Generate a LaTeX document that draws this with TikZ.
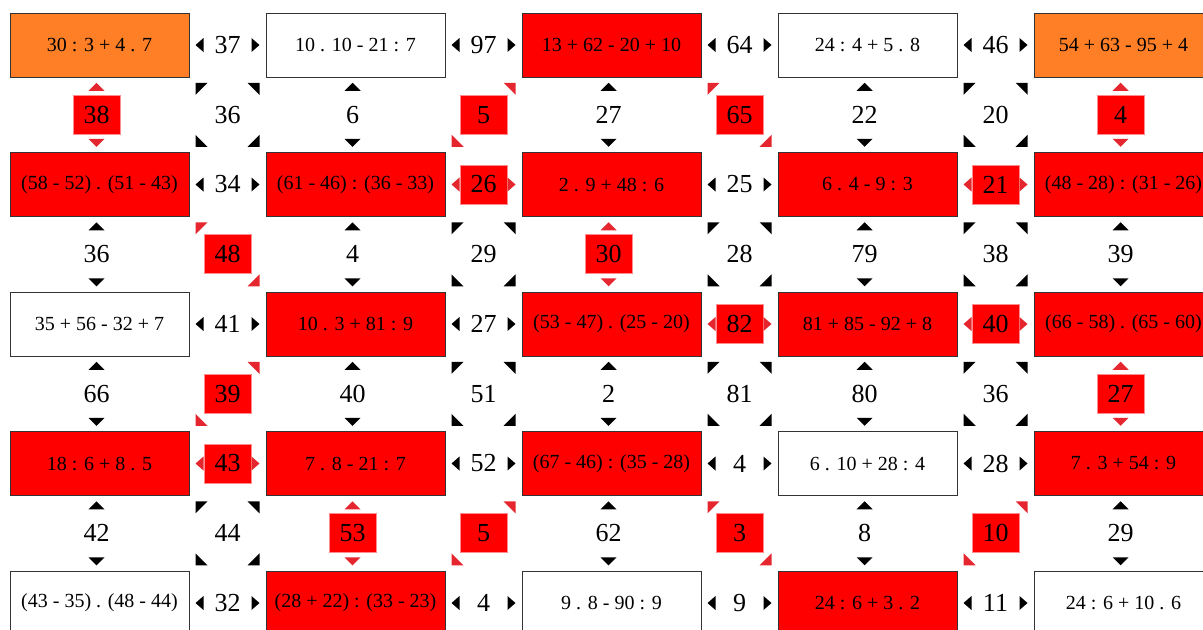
\documentclass[tikz,border=0pt]{standalone}
\usepackage{fontspec}
\setmainfont{Liberation Serif}
\usepackage{tikz}
\usepackage{xcolor}
\definecolor{cellred}{HTML}{FF0000}
\definecolor{tipred}{HTML}{E6262E}
\definecolor{cellorange}{HTML}{FF7F27}

% little triangles round a number node: #1 node, #2 colour
\newcommand{\sidetips}[2]{%
  \fill[#2, shift={(#1)}] (-24,-7) -- (-32,0) -- (-24,7) -- cycle
    (24,-7) -- (32,0) -- (24,7) -- cycle;}
\newcommand{\vtips}[2]{%
  \fill[#2, shift={(#1)}] (-8,-24) -- (0,-32) -- (8,-24) -- cycle
    (-8,24) -- (0,32) -- (8,24) -- cycle;}
\newcommand{\risetips}[2]{% top right, bottom left
  \fill[#2, shift={(#1)}] (20,-32) -- (32,-32) -- (32,-20) -- cycle
    (-32,20) -- (-32,32) -- (-20,32) -- cycle;}
\newcommand{\falltips}[2]{% top left, bottom right
  \fill[#2, shift={(#1)}] (-32,-32) -- (-20,-32) -- (-32,-20) -- cycle
    (32,20) -- (32,32) -- (20,32) -- cycle;}
\newcommand{\cornertips}[1]{\risetips{#1}{black}\falltips{#1}{black}}

\begin{document}
\begin{tikzpicture}[x=0.75pt, y=-0.75pt,
    cell/.style={draw=black!80, line width=0.75pt, minimum width=134.25pt,
      minimum height=48pt, inner sep=0pt, font=\fontsize{15}{17}\selectfont},
    num/.style={inner sep=0pt, minimum width=35.25pt, minimum height=29.25pt,
      font=\fontsize{19.5}{22}\selectfont},
    hot/.style={num, fill=cellred, draw=red!45, line width=0.4pt}]
  \useasboundingbox (0,0) rectangle (1203,629);

  % row 1
  \node[cell, fill=cellorange] (b11) at (99.5,45) {30 : 3 + 4 . 7};
  \node[cell] (b12) at (355.5,45) {10 . 10 - 21 : 7};
  \node[cell, fill=cellred] (b13) at (611.5,45) {13 + 62 - 20 + 10};
  \node[cell] (b14) at (867.5,45) {24 : 4 + 5 . 8};
  \node[cell, fill=cellorange] (b15) at (1123.5,45) {54 + 63 - 95 + 4};
  \node[num] (h11) at (227.5,45) {37};
  \node[num] (h12) at (483.5,45) {97};
  \node[num] (h13) at (739.5,45) {64};
  \node[num] (h14) at (995.5,45) {46};
  \node[hot] (v11) at (96.5,114.75) {38};
  \node[num] (d11) at (227.5,114.75) {36};
  \node[num] (v12) at (352.5,114.75) {6};
  \node[hot] (d12) at (483.5,114.75) {5};
  \node[num] (v13) at (608.5,114.75) {27};
  \node[hot] (d13) at (739.5,114.75) {65};
  \node[num] (v14) at (864.5,114.75) {22};
  \node[num] (d14) at (995.5,114.75) {20};
  \node[hot] (v15) at (1120.5,114.75) {4};

  % row 2
  \node[cell, fill=cellred] (b21) at (99.5,184.5) {(58 - 52) . (51 - 43)};
  \node[cell, fill=cellred] (b22) at (355.5,184.5) {(61 - 46) : (36 - 33)};
  \node[cell, fill=cellred] (b23) at (611.5,184.5) {2 . 9 + 48 : 6};
  \node[cell, fill=cellred] (b24) at (867.5,184.5) {6 . 4 - 9 : 3};
  \node[cell, fill=cellred] (b25) at (1123.5,184.5) {(48 - 28) : (31 - 26)};
  \node[num] (h21) at (227.5,184.5) {34};
  \node[hot] (h22) at (483.5,184.5) {26};
  \node[num] (h23) at (739.5,184.5) {25};
  \node[hot] (h24) at (995.5,184.5) {21};
  \node[num] (v21) at (96.5,254.25) {36};
  \node[hot] (d21) at (227.5,254.25) {48};
  \node[num] (v22) at (352.5,254.25) {4};
  \node[num] (d22) at (483.5,254.25) {29};
  \node[hot] (v23) at (608.5,254.25) {30};
  \node[num] (d23) at (739.5,254.25) {28};
  \node[num] (v24) at (864.5,254.25) {79};
  \node[num] (d24) at (995.5,254.25) {38};
  \node[num] (v25) at (1120.5,254.25) {39};

  % row 3
  \node[cell] (b31) at (99.5,324) {35 + 56 - 32 + 7};
  \node[cell, fill=cellred] (b32) at (355.5,324) {10 . 3 + 81 : 9};
  \node[cell, fill=cellred] (b33) at (611.5,324) {(53 - 47) . (25 - 20)};
  \node[cell, fill=cellred] (b34) at (867.5,324) {81 + 85 - 92 + 8};
  \node[cell, fill=cellred] (b35) at (1123.5,324) {(66 - 58) . (65 - 60)};
  \node[num] (h31) at (227.5,324) {41};
  \node[num] (h32) at (483.5,324) {27};
  \node[hot] (h33) at (739.5,324) {82};
  \node[hot] (h34) at (995.5,324) {40};
  \node[num] (v31) at (96.5,393.75) {66};
  \node[hot] (d31) at (227.5,393.75) {39};
  \node[num] (v32) at (352.5,393.75) {40};
  \node[num] (d32) at (483.5,393.75) {51};
  \node[num] (v33) at (608.5,393.75) {2};
  \node[num] (d33) at (739.5,393.75) {81};
  \node[num] (v34) at (864.5,393.75) {80};
  \node[num] (d34) at (995.5,393.75) {36};
  \node[hot] (v35) at (1120.5,393.75) {27};

  % row 4
  \node[cell, fill=cellred] (b41) at (99.5,463.5) {18 : 6 + 8 . 5};
  \node[cell, fill=cellred] (b42) at (355.5,463.5) {7 . 8 - 21 : 7};
  \node[cell, fill=cellred] (b43) at (611.5,463.5) {(67 - 46) : (35 - 28)};
  \node[cell] (b44) at (867.5,463.5) {6 . 10 + 28 : 4};
  \node[cell, fill=cellred] (b45) at (1123.5,463.5) {7 . 3 + 54 : 9};
  \node[hot] (h41) at (227.5,463.5) {43};
  \node[num] (h42) at (483.5,463.5) {52};
  \node[num] (h43) at (739.5,463.5) {4};
  \node[num] (h44) at (995.5,463.5) {28};
  \node[num] (v41) at (96.5,533.25) {42};
  \node[num] (d41) at (227.5,533.25) {44};
  \node[hot] (v42) at (352.5,533.25) {53};
  \node[hot] (d42) at (483.5,533.25) {5};
  \node[num] (v43) at (608.5,533.25) {62};
  \node[hot] (d43) at (739.5,533.25) {3};
  \node[num] (v44) at (864.5,533.25) {8};
  \node[hot] (d44) at (995.5,533.25) {10};
  \node[num] (v45) at (1120.5,533.25) {29};

  % row 5
  \node[cell] (b51) at (99.5,603) {(43 - 35) . (48 - 44)};
  \node[cell, fill=cellred] (b52) at (355.5,603) {(28 + 22) : (33 - 23)};
  \node[cell] (b53) at (611.5,603) {9 . 8 - 90 : 9};
  \node[cell, fill=cellred] (b54) at (867.5,603) {24 : 6 + 3 . 2};
  \node[cell] (b55) at (1123.5,603) {24 : 6 + 10 . 6};
  \node[num] (h51) at (227.5,603) {32};
  \node[num] (h52) at (483.5,603) {4};
  \node[num] (h53) at (739.5,603) {9};
  \node[num] (h54) at (995.5,603) {11};

  % triangles
  \sidetips{h11}{black} \sidetips{h12}{black} \sidetips{h13}{black} \sidetips{h14}{black}
  \sidetips{h21}{black} \sidetips{h22}{tipred} \sidetips{h23}{black} \sidetips{h24}{tipred}
  \sidetips{h31}{black} \sidetips{h32}{black} \sidetips{h33}{tipred} \sidetips{h34}{tipred}
  \sidetips{h41}{tipred} \sidetips{h42}{black} \sidetips{h43}{black} \sidetips{h44}{black}
  \sidetips{h51}{black} \sidetips{h52}{black} \sidetips{h53}{black} \sidetips{h54}{black}
  \vtips{v11}{tipred} \vtips{v12}{black} \vtips{v13}{black} \vtips{v14}{black} \vtips{v15}{tipred}
  \vtips{v21}{black} \vtips{v22}{black} \vtips{v23}{tipred} \vtips{v24}{black} \vtips{v25}{black}
  \vtips{v31}{black} \vtips{v32}{black} \vtips{v33}{black} \vtips{v34}{black} \vtips{v35}{tipred}
  \vtips{v41}{black} \vtips{v42}{tipred} \vtips{v43}{black} \vtips{v44}{black} \vtips{v45}{black}
  \cornertips{d11} \risetips{d12}{tipred} \falltips{d13}{tipred} \cornertips{d14}
  \falltips{d21}{tipred} \cornertips{d22} \cornertips{d23} \cornertips{d24}
  \risetips{d31}{tipred} \cornertips{d32} \cornertips{d33} \cornertips{d34}
  \cornertips{d41} \risetips{d42}{tipred} \falltips{d43}{tipred} \risetips{d44}{tipred}
\end{tikzpicture}
\end{document}
